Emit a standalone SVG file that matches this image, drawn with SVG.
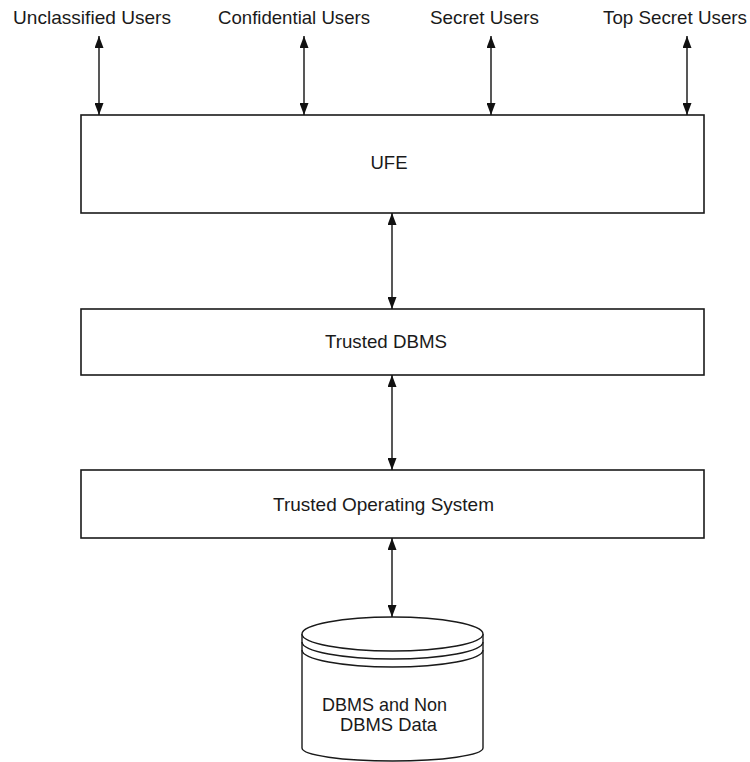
<svg xmlns="http://www.w3.org/2000/svg" width="750" height="762" viewBox="0 0 750 762">
  <style>
    .box { fill: #ffffff; stroke: #1a1a1a; stroke-width: 1.6; }
    .lbl { font-family: "Liberation Sans", Arial, sans-serif; font-size: 18.5px; fill: #1a1a1a; }
    .link { stroke: #111111; stroke-width: 1.4; fill: none; marker-start: url(#head); marker-end: url(#head); }
    .db { fill: #ffffff; stroke: #1a1a1a; stroke-width: 1.4; }
  </style>
  <defs>
    <marker id="head" viewBox="0 0 12 9" refX="12" refY="4.5" markerWidth="12" markerHeight="9" markerUnits="userSpaceOnUse" orient="auto-start-reverse">
      <path d="M0,0 L12,4.5 L0,9 Z" fill="#111111"/>
    </marker>
  </defs>
  <rect width="750" height="762" fill="#ffffff"/>

  <!-- user classes -->
  <g id="unclassified-users">
    <text class="lbl" x="13" y="24" textLength="158" lengthAdjust="spacingAndGlyphs">Unclassified Users</text>
  </g>
  <g id="confidential-users">
    <text class="lbl" x="218" y="24" textLength="152" lengthAdjust="spacingAndGlyphs">Confidential Users</text>
  </g>
  <g id="secret-users">
    <text class="lbl" x="430" y="24" textLength="109" lengthAdjust="spacingAndGlyphs">Secret Users</text>
  </g>
  <g id="top-secret-users">
    <text class="lbl" x="603" y="24" textLength="144" lengthAdjust="spacingAndGlyphs">Top Secret Users</text>
  </g>

  <!-- layered components -->
  <g id="ufe">
    <rect class="box" x="81" y="115" width="623" height="98"/>
    <text class="lbl" x="389" y="169" text-anchor="middle">UFE</text>
  </g>
  <g id="trusted-dbms">
    <rect class="box" x="81" y="309" width="623" height="66"/>
    <text class="lbl" x="325" y="348" textLength="122" lengthAdjust="spacingAndGlyphs">Trusted DBMS</text>
  </g>
  <g id="trusted-os">
    <rect class="box" x="81" y="470" width="623" height="68"/>
    <text class="lbl" x="273" y="511" textLength="221" lengthAdjust="spacingAndGlyphs">Trusted Operating System</text>
  </g>

  <!-- data store cylinder -->
  <g id="data-store">
    <path class="db" d="M302,634 L302,748 A90.5,13 0 0 0 483,748 L483,634"/>
    <ellipse class="db" cx="392.5" cy="634" rx="90.5" ry="17"/>
    <path class="db" fill="none" d="M302,642 A90.5,17 0 0 0 483,642" style="fill:none"/>
    <path class="db" d="M302,650 A90.5,17 0 0 0 483,650" style="fill:none"/>
    <text class="lbl" x="322" y="711" textLength="125" lengthAdjust="spacingAndGlyphs">DBMS and Non</text>
    <text class="lbl" x="340" y="731" textLength="97" lengthAdjust="spacingAndGlyphs">DBMS Data</text>
  </g>

  <!-- bidirectional connectors -->
  <g id="connectors">
    <line class="link" x1="99" y1="36" x2="99" y2="115"/>
    <line class="link" x1="304" y1="36" x2="304" y2="115"/>
    <line class="link" x1="491" y1="36" x2="491" y2="115"/>
    <line class="link" x1="687" y1="36" x2="687" y2="115"/>
    <line class="link" x1="392" y1="213" x2="392" y2="309"/>
    <line class="link" x1="392" y1="375" x2="392" y2="470"/>
    <line class="link" x1="392" y1="538" x2="392" y2="617"/>
  </g>
</svg>
